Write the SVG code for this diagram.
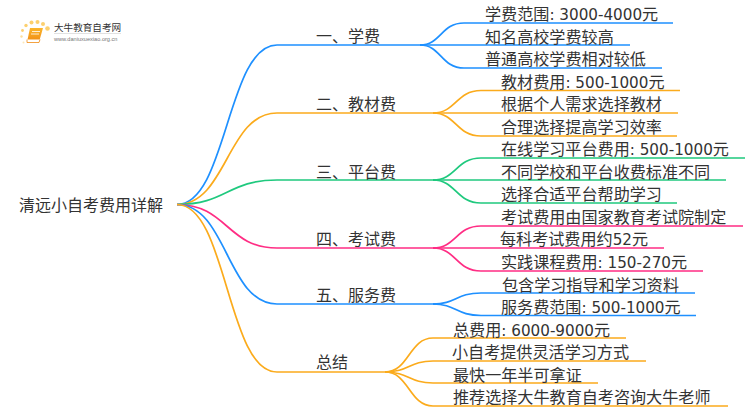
<svg xmlns="http://www.w3.org/2000/svg" width="750" height="410" viewBox="0 0 750 410">
<defs>
<linearGradient id="book" x1="0" y1="0" x2="0" y2="1"><stop offset="0" stop-color="#fbb62c"/><stop offset="1" stop-color="#f08a12"/></linearGradient>
</defs>
<style>
text{font-family:"DejaVu Sans","Noto Sans CJK SC",sans-serif;fill:#333}
.r{font-size:16px}.b{font-size:16px}.l{font-size:16.100px}
.n{font-size:15.200px}
#connectors path{fill:none;stroke-width:1.7}
.bl{stroke:#1e90ff}.or{stroke:#fbab1c}.gr{stroke:#1fc97e}.pk{stroke:#ff2d84}
.d{fill:#fcd06f}
</style>
<rect width="750" height="410" fill="#fff"/>
<g id="connectors">
<path class="bl" d="M177 204.500C227 204.500 227 45 277 45H424"/>
<path class="or" d="M177 204.500C227 204.500 227 113 277 113H437"/>
<path class="gr" d="M177 204.500C227 204.500 227 180 277 180H437"/>
<path class="pk" d="M177 204.500C227 204.500 227 248 277 248H437"/>
<path class="bl" d="M177 204.500C227 204.500 227 304 277 304H437"/>
<path class="or" d="M177 204.500C227 204.500 227 372 277 372H388"/>
<path class="bl" d="M420 45C441 45 441 23 464 23H673"/>
<path class="bl" d="M420 45H630"/>
<path class="bl" d="M420 45C441 45 441 68 464 68H662"/>
<path class="or" d="M433 113C456 113 456 90.500 481 90.500H680"/>
<path class="or" d="M433 113H678"/>
<path class="or" d="M433 113C456 113 456 136 481 136H677"/>
<path class="gr" d="M433 180C456 180 456 158 481 158H745"/>
<path class="gr" d="M433 180H726"/>
<path class="gr" d="M433 180C456 180 456 203 481 203H677"/>
<path class="pk" d="M433 248C456 248 456 226 481 226H743"/>
<path class="pk" d="M433 248H664"/>
<path class="pk" d="M433 248C456 248 456 271 481 271H703"/>
<path class="bl" d="M433 304C456 304 456 293 481 293H695"/>
<path class="bl" d="M433 304C456 304 456 315.500 481 315.500H696"/>
<path class="or" d="M385 372C409 372 409 338 433 338H626"/>
<path class="or" d="M385 372C409 372 409 361 433 361H646"/>
<path class="or" d="M385 372C409 372 409 383 433 383H598"/>
<path class="or" d="M385 372C409 372 409 406 433 406H728"/>
</g>
<g id="logo">
<circle class="d" cx="47.500" cy="28.500" r="2.300"/><circle class="d" cx="43" cy="24" r="2"/><circle class="d" cx="37.500" cy="22" r="2"/><circle class="d" cx="31.500" cy="22.500" r="2"/><circle class="d" cx="26" cy="25.500" r="1.700"/><circle class="d" cx="22.500" cy="30.500" r="1.400"/><circle class="d" cx="21.500" cy="36.500" r="1.200" opacity=".7"/><circle class="d" cx="23.500" cy="42.500" r="1" opacity=".5"/>
<path d="M30 28H43L39 42H27Z" fill="url(#book)"/>
<path d="M27 39.500L27 42.500H39L40 39.500" fill="#fff" stroke="#f08a12" stroke-width=".8"/>
<path d="M32 31.500H40M31 34H39" stroke="#fff" stroke-width=".8" fill="none"/>
<text x="54" y="30.500" style="font-size:9.600px;font-family:'Noto Sans CJK SC',sans-serif">大牛教育自考网</text>
<path d="M54 33.500H121" stroke="#ccc" stroke-width=".6"/>
<text x="54" y="41" style="font-size:5.600px;fill:#777;font-family:'Liberation Sans',sans-serif">www.daniuxuexiao.org.cn</text>
</g>
<g id="root"><text class="r" x="19" y="211">清远小自考费用详解</text></g>
<g id="n1"><text class="b" x="316" y="42">一、学费</text>
<text class="l" x="485" y="20">学费范围<tspan class="n">: 3000-4000</tspan>元</text><text class="l" x="485" y="43">知名高校学费较高</text><text class="l" x="485" y="65">普通高校学费相对较低</text></g>
<g id="n2"><text class="b" x="316" y="110">二、教材费</text>
<text class="l" x="501" y="87.500">教材费用<tspan class="n">: 500-1000</tspan>元</text><text class="l" x="501" y="110">根据个人需求选择教材</text><text class="l" x="501" y="133">合理选择提高学习效率</text></g>
<g id="n3"><text class="b" x="316" y="178">三、平台费</text>
<text class="l" x="501" y="155">在线学习平台费用<tspan class="n">: 500-1000</tspan>元</text><text class="l" x="501" y="178">不同学校和平台收费标准不同</text><text class="l" x="501" y="200">选择合适平台帮助学习</text></g>
<g id="n4"><text class="b" x="316" y="245">四、考试费</text>
<text class="l" x="501" y="223">考试费用由国家教育考试院制定</text><text class="l" x="500" y="245">每科考试费用约<tspan class="n">52</tspan>元</text><text class="l" x="501" y="268">实践课程费用<tspan class="n">: 150-270</tspan>元</text></g>
<g id="n5"><text class="b" x="316" y="301">五、服务费</text>
<text class="l" x="502" y="290.500">包含学习指导和学习资料</text><text class="l" x="501" y="313">服务费范围<tspan class="n">: 500-1000</tspan>元</text></g>
<g id="n6"><text class="b" x="316" y="368">总结</text>
<text class="l" x="453" y="335.500">总费用<tspan class="n">: 6000-9000</tspan>元</text><text class="l" x="452" y="358">小自考提供灵活学习方式</text><text class="l" x="453" y="381">最快一年半可拿证</text><text class="l" x="453" y="403">推荐选择大牛教育自考咨询大牛老师</text></g>
</svg>
